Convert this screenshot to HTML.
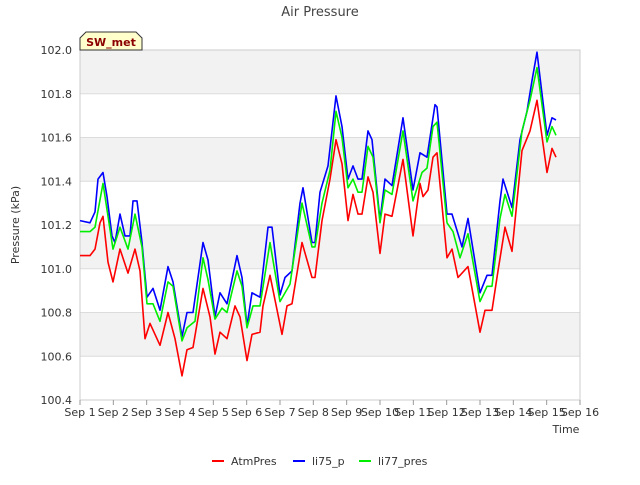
<!DOCTYPE html>
<html><head><meta charset="utf-8"><style>
body{margin:0;background:#fff;font-family:"Liberation Sans","DejaVu Sans",sans-serif}
svg text{font-family:"DejaVu Sans","Liberation Sans",sans-serif}
</style></head><body>
<svg id="c" width="640" height="480" xmlns="http://www.w3.org/2000/svg"></svg>
<script>
const yTicks=[100.4,100.6,100.8,101.0,101.2,101.4,101.6,101.8,102.0];
const xTickLabels=["Sep 1","Sep 2","Sep 3","Sep 4","Sep 5","Sep 6","Sep 7","Sep 8","Sep 9","Sep 10","Sep 11","Sep 12","Sep 13","Sep 14","Sep 15","Sep 16"];
const seriesNames=["AtmPres","li75_p","li77_pres"];
const seriesColors=["#ff0000","#0000ff","#00ee00"];
const atmT=[0,0.3,0.45,0.6,0.69,0.84,0.99,1.2,1.44,1.65,1.8,1.95,2.1,2.4,2.64,2.85,3.06,3.21,3.39,3.69,3.9,4.05,4.2,4.41,4.65,4.8,5.01,5.16,5.4,5.49,5.7,6.06,6.21,6.36,6.66,6.96,7.05,7.26,7.5,7.68,7.86,8.04,8.19,8.34,8.46,8.64,8.79,9.0,9.15,9.36,9.69,9.99,10.2,10.29,10.44,10.59,10.71,11.01,11.16,11.34,11.64,12.0,12.15,12.36,12.54,12.75,12.96,13.26,13.5,13.71,14.01,14.16,14.28];
const atmV=[101.06,101.06,101.09,101.21,101.24,101.03,100.94,101.09,100.98,101.09,100.99,100.68,100.75,100.65,100.80,100.68,100.51,100.63,100.64,100.91,100.78,100.61,100.71,100.68,100.83,100.78,100.58,100.70,100.71,100.83,100.97,100.70,100.83,100.84,101.12,100.96,100.96,101.22,101.41,101.59,101.48,101.22,101.34,101.25,101.25,101.42,101.35,101.07,101.25,101.24,101.50,101.15,101.39,101.33,101.36,101.51,101.53,101.05,101.09,100.96,101.01,100.71,100.81,100.81,100.99,101.19,101.08,101.54,101.63,101.77,101.44,101.55,101.51];
const li75T=[0,0.3,0.45,0.54,0.69,0.81,0.96,1.05,1.2,1.35,1.5,1.59,1.71,1.86,2.01,2.19,2.4,2.64,2.79,3.06,3.21,3.39,3.69,3.84,4.05,4.2,4.41,4.71,4.86,5.01,5.16,5.4,5.64,5.76,6.0,6.15,6.36,6.6,6.69,6.96,7.05,7.2,7.44,7.68,7.86,8.04,8.19,8.34,8.46,8.64,8.76,9.0,9.15,9.36,9.69,9.99,10.2,10.41,10.65,10.71,11.01,11.16,11.46,11.64,12.0,12.21,12.36,12.6,12.69,12.96,13.2,13.41,13.56,13.71,14.01,14.16,14.28];
const li75V=[101.22,101.21,101.26,101.41,101.44,101.33,101.15,101.12,101.25,101.15,101.15,101.31,101.31,101.12,100.87,100.91,100.81,101.01,100.94,100.69,100.80,100.80,101.12,101.04,100.78,100.89,100.84,101.06,100.96,100.74,100.89,100.87,101.19,101.19,100.88,100.96,100.99,101.30,101.37,101.12,101.12,101.35,101.47,101.79,101.65,101.41,101.47,101.41,101.41,101.63,101.59,101.22,101.41,101.38,101.69,101.36,101.53,101.51,101.75,101.74,101.25,101.25,101.10,101.23,100.89,100.97,100.97,101.31,101.41,101.28,101.59,101.72,101.86,101.99,101.61,101.69,101.68];
const li77T=[0,0.3,0.45,0.69,0.84,0.99,1.2,1.44,1.65,1.86,2.01,2.19,2.4,2.64,2.79,3.06,3.21,3.45,3.69,3.84,4.05,4.26,4.41,4.71,4.86,5.01,5.19,5.4,5.7,6.0,6.3,6.66,6.96,7.05,7.26,7.5,7.68,7.86,8.04,8.19,8.34,8.46,8.64,8.79,9.0,9.15,9.36,9.69,9.99,10.26,10.41,10.59,10.71,11.01,11.19,11.4,11.64,12.0,12.21,12.36,12.6,12.75,12.96,13.26,13.5,13.71,14.01,14.16,14.28];
const li77V=[101.17,101.17,101.19,101.39,101.24,101.09,101.19,101.09,101.25,101.10,100.84,100.84,100.76,100.94,100.92,100.67,100.73,100.76,101.05,100.95,100.77,100.82,100.80,100.99,100.92,100.73,100.83,100.83,101.12,100.85,100.93,101.30,101.10,101.10,101.30,101.45,101.72,101.60,101.37,101.41,101.35,101.35,101.56,101.51,101.21,101.36,101.34,101.63,101.31,101.44,101.46,101.65,101.67,101.21,101.17,101.05,101.16,100.85,100.92,100.92,101.23,101.34,101.24,101.63,101.77,101.92,101.58,101.65,101.61];

const NS="http://www.w3.org/2000/svg";
const svg=document.getElementById('c');
const L=80,R=580,T=50,B=400;
const xs=d=>L+(R-L)*d/15;
const ys=v=>B-(B-T)*(v-100.4)/1.6;
function mk(tag,attrs,parent){const e=document.createElementNS(NS,tag);for(const k in attrs)e.setAttribute(k,attrs[k]);(parent||svg).appendChild(e);return e;}

const bg=mk('rect',{x:L,y:T,width:R-L,height:B-T,fill:'#fff'});


for(let i=0;i<yTicks.length-1;i++){
  if(i%2===1){
    const b=mk('rect',{x:L,y:ys(yTicks[i+1]),width:R-L,height:ys(yTicks[i])-ys(yTicks[i+1]),fill:'#f2f2f2'});
    
    
  }
}
yTicks.forEach(v=>{
  const g=mk('line',{x1:L,x2:R,y1:ys(v),y2:ys(v),stroke:'#dcdcdc','stroke-width':1});
  
  
  const t=mk('text',{x:L-8,y:ys(v)+4,'text-anchor':'end','font-size':11,fill:'#333'});
  t.textContent=v.toFixed(1);
  
  
});
const fr=mk('rect',{x:L,y:T,width:R-L,height:B-T,fill:'none',stroke:'#cccccc'});


xTickLabels.forEach((s,i)=>{
  const tk=mk('line',{x1:xs(i),x2:xs(i),y1:B,y2:B+5,stroke:'#999'});
  
  
  const t=mk('text',{x:xs(i),y:B+16,'text-anchor':'middle','font-size':11,fill:'#333'});
  t.textContent=s;
  
  
});
const allT=[atmT,li75T,li77T],allV=[atmV,li75V,li77V];
[0,2,1].forEach(k=>{});
[0,1,2].forEach(k=>{
  const d=allT[k].map((t,i)=>(i?'L':'M')+xs(t).toFixed(1)+','+ys(allV[k][i]).toFixed(1)).join(' ');
  const p=mk('path',{d:d,fill:'none',stroke:seriesColors[k],'stroke-width':1.6,'stroke-linejoin':'round'});
  
  
});
const title=mk('text',{x:320,y:16,'text-anchor':'middle','font-size':13,fill:'#444'});
title.textContent='Air Pressure';


const yt=mk('text',{x:19,y:225,'text-anchor':'middle','font-size':11,fill:'#333',transform:'rotate(-90 19 225)'});
yt.textContent='Pressure (kPa)';


const xt=mk('text',{x:566,y:433,'text-anchor':'middle','font-size':11,fill:'#333'});
xt.textContent='Time';


const sb=mk('path',{d:'M80,50 L80,38 L86,32 L136,32 L142,38 L142,50 Z',fill:'#ffffcc',stroke:'#333','stroke-width':1});


const st=mk('text',{x:111,y:46,'text-anchor':'middle','font-size':11,'font-weight':'bold',fill:'#8b0000'});
st.textContent='SW_met';


const lx=[212,293,359];
seriesNames.forEach((n,k)=>{
  const ln=mk('line',{x1:lx[k],x2:lx[k]+12,y1:461,y2:461,stroke:seriesColors[k],'stroke-width':2});
  
  
  const t=mk('text',{x:lx[k]+19,y:465,'font-size':11,fill:'#333'});
  t.textContent=n;
  
  
});
</script>
</body></html>
